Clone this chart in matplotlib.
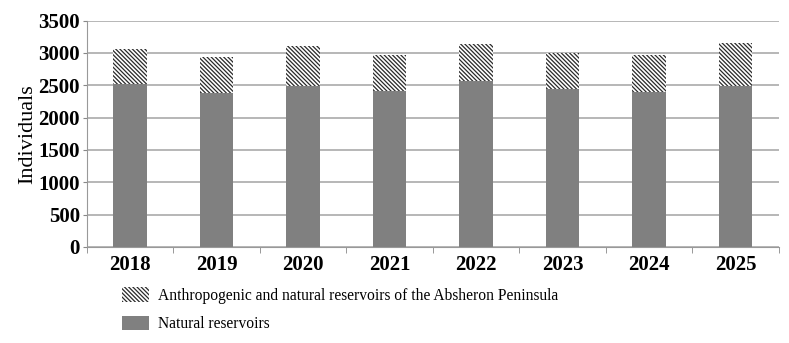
import matplotlib.pyplot as plt
import numpy as np

years = ['2018', '2019', '2020', '2021', '2022', '2023', '2024', '2025']
natural = [2520, 2377, 2485, 2418, 2567, 2438, 2392, 2495]
absheron = [547, 566, 623, 551, 568, 557, 577, 665]

plt.rcParams['font.family'] = ['Liberation Serif', 'DejaVu Serif']
plt.rcParams['hatch.linewidth'] = 0.9

fig = plt.figure(figsize=(7.89, 3.43), dpi=100)
ax = fig.add_axes([0.110, 0.280, 0.877, 0.660])

hatch = chr(92) * 8  # dense backslash hatch

x = np.arange(len(years))
ax.bar(x, natural, width=0.39, color='#808080', zorder=3, label='Natural reservoirs')
ax.bar(x, absheron, width=0.39, bottom=natural, color='white', edgecolor='#2a2a2a',
       hatch=hatch, linewidth=0, zorder=3,
       label='Anthropogenic and natural reservoirs of the Absheron Peninsula')

ax.set_xlim(-0.5, len(years) - 0.5)
ax.set_ylim(0, 3500)
ax.set_yticks(range(0, 3501, 500))
ax.set_xticks(x)
ax.set_xticklabels(years, fontsize=15, fontweight='bold')
ax.set_xticks(np.arange(-0.5, len(years)), minor=True)
ax.tick_params(axis='x', which='major', length=0, pad=6)
ax.tick_params(axis='x', which='minor', length=4, color='#888888', direction='out')
ax.tick_params(axis='y', length=3, color='#888888', labelsize=15, pad=2)
for t in ax.get_yticklabels():
    t.set_fontweight('bold')
ax.set_ylabel('Individuals', fontsize=16, labelpad=1)

ax.grid(axis='y', color='#aaaaaa', linewidth=1.2, zorder=0)
for s in ['top', 'right']:
    ax.spines[s].set_visible(False)
ax.spines['left'].set_color('#999999')
ax.spines['bottom'].set_color('#999999')

h, l = ax.get_legend_handles_labels()
fig.legend(h[::-1], l[::-1], loc='upper left', bbox_to_anchor=(0.154, 0.162),
           frameon=False, fontsize=11.2, handlelength=1.75, handleheight=1.05,
           labelspacing=0.75, handletextpad=0.6, borderaxespad=0, borderpad=0)

fig.savefig('out.png', dpi=100)
